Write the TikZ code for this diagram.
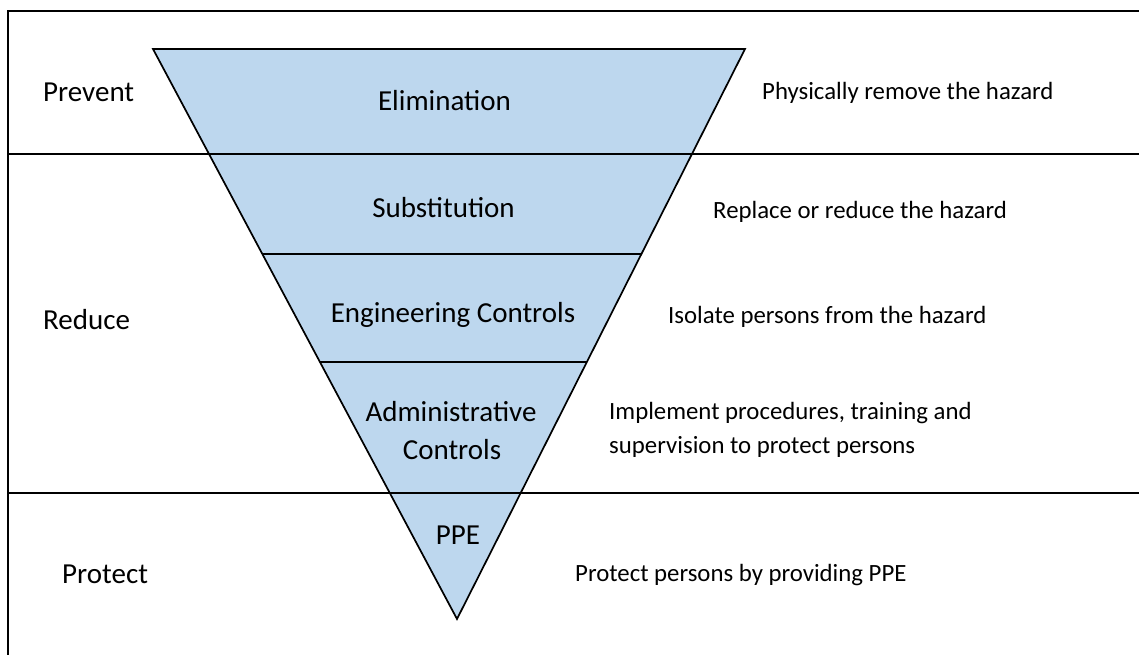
\documentclass[tikz,border=0pt]{standalone}
\usepackage{fontspec}
\setmainfont{Carlito}
\usetikzlibrary{calc}
\definecolor{tribl}{RGB}{189,215,238}
\tikzset{
  lbl/.style={inner sep=0pt, font=\fontsize{29}{34}\selectfont},
  rlbl/.style={inner sep=0pt, anchor=base west, font=\fontsize{24.8}{30}\selectfont},
  rule/.style={line width=1.7pt, black},
}
\begin{document}
\begin{tikzpicture}[x=1pt,y=-1pt]
\useasboundingbox (0,0) rectangle (1139,655);
% triangle corners
\coordinate (tl) at (153,49);
\coordinate (tr) at (745,49);
\coordinate (ap) at (457,619);
% frame
\coordinate (f1) at (1140,11);
\coordinate (f2) at (8,11);
\coordinate (f3) at (8,656);
\coordinate (h1a) at (8,154);
\coordinate (h1b) at (1140,154);
\coordinate (h2a) at (8,493);
\coordinate (h2b) at (1140,493);
% fill
\fill[tribl] (tl) -- (tr) -- (ap) -- cycle;
\draw[rule] (f1) -- (f2) -- (f3);
\draw[rule] (h1a) -- (h1b);
\draw[rule] (h2a) -- (h2b);
% inner lines
\draw[rule] ($(tl)!0.3596!(ap)$) -- ($(tr)!0.3596!(ap)$);
\draw[rule] ($(tl)!0.549!(ap)$) -- ($(tr)!0.549!(ap)$);
\draw[rule, line join=miter] (tl) -- (tr) -- (ap) -- cycle;
% triangle labels
\node[lbl, anchor=base] (elim) at (444.5,111) {Elimination};
\node[lbl, anchor=base] (subs) at (443.5,217) {Substitution};
\node[lbl, anchor=base] (eng) at (453,322) {Engineering Controls};
\node[lbl, anchor=base] (adm1) at (451,421) {Administrative};
\node[lbl, anchor=base] (adm2) at (452,459) {Controls};
\node[lbl, anchor=base] (ppe) at (458,544) {PPE};
% left labels
\node[lbl, anchor=base west] (prev) at (43,102) {Prevent};
\node[lbl, anchor=base west] (red) at (43,329) {Reduce};
\node[lbl, anchor=base west] (prot) at (62,583) {Protect};
% right labels
\node[rlbl] (d1) at (762,100) {Physically remove the hazard};
\node[rlbl] (d2) at (713,218) {Replace or reduce the hazard};
\node[rlbl] (d3) at (668,323) {Isolate persons from the hazard};
\node[rlbl] (d4a) at (609,419) {Implement procedures, training and};
\node[rlbl] (d4b) at (609,453) {supervision to protect persons};
\node[rlbl] (d5) at (575,581) {Protect persons by providing PPE};
\end{tikzpicture}
\end{document}
